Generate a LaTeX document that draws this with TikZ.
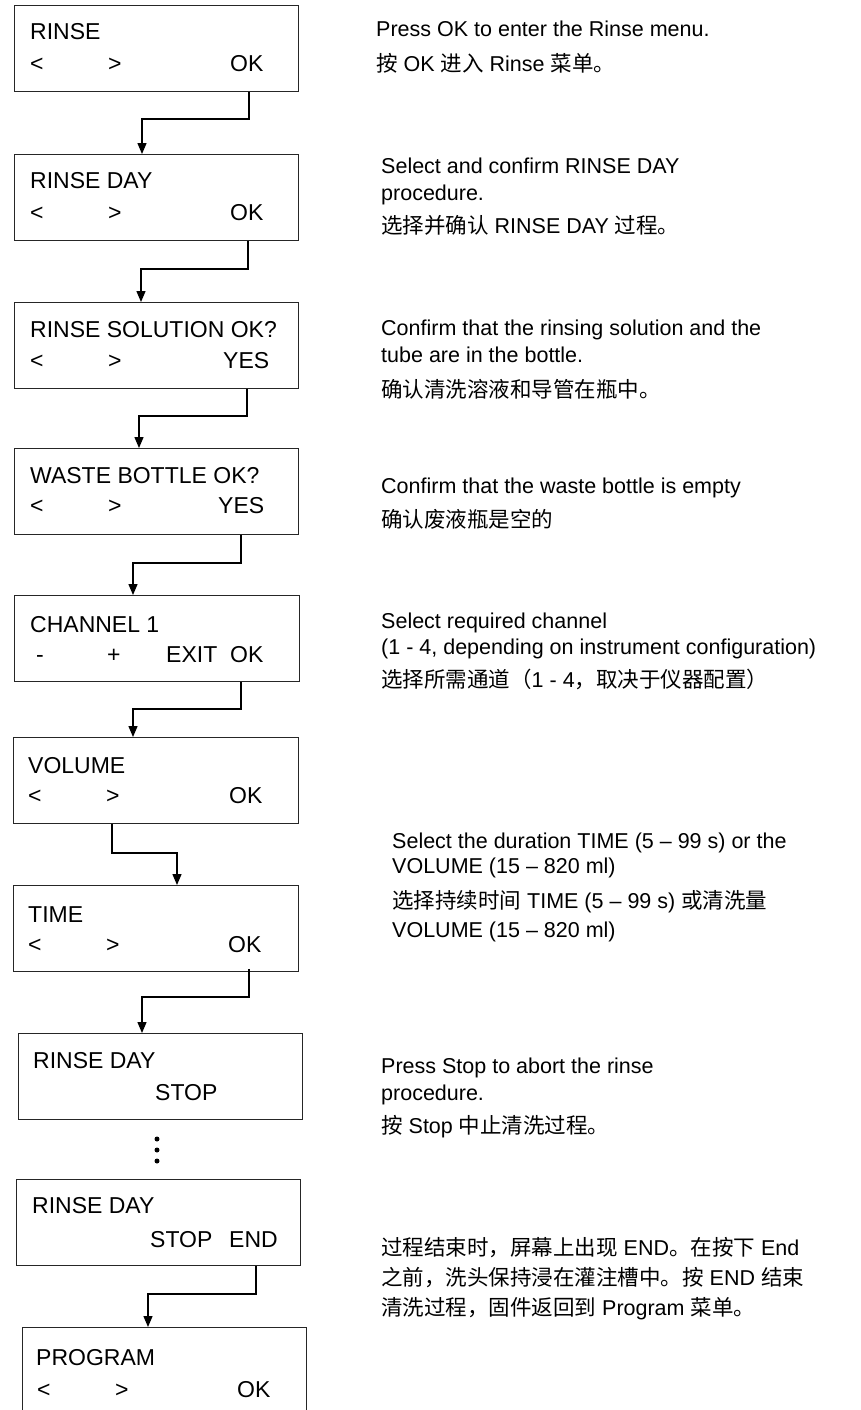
\documentclass[tikz,border=0pt]{standalone}
\usepackage{fontspec}
\setmainfont{Liberation Sans}
\newfontfamily\cjkfont{Noto Sans CJK SC}
\newcommand\zhtxt[1]{{\cjkfont #1}}
\usetikzlibrary{arrows.meta}
\tikzset{
  box/.style={draw=black!85, line width=0.9pt, rectangle, anchor=north west, inner sep=0pt,
              minimum width=284pt, minimum height=86pt},
  lbl/.style={anchor=base west, inner sep=0pt, font=\fontsize{23}{27}\selectfont},
  desc/.style={anchor=base west, inner sep=0pt, font=\fontsize{21.5}{26}\selectfont},
  arr/.style={-{Triangle[length=11pt,width=9pt]}, line width=1.3pt, black},
  dotnode/.style={circle, fill=black, inner sep=0pt, minimum size=5pt}
}
\begin{document}
\begin{tikzpicture}[x=1pt,y=-1pt]
\fill[white] (0,0) rectangle (860,1410);
\useasboundingbox (0,0) rectangle (860,1410);

% ---------- boxes ----------
\node[box] (b1) at (14,5) {};
\node[box] (b2) at (14,154) {};
\node[box] (b3) at (14,302) {};
\node[box] (b4) at (14,448) {};
\node[box, minimum width=285pt] (b5) at (14,595) {};
\node[box, minimum width=285pt] (b6) at (13,737) {};
\node[box, minimum width=285pt] (b7) at (13,885) {};
\node[box] (b8) at (18,1033) {};
\node[box] (b9) at (16,1179) {};
\node[box] (b10) at (22,1327) {};

% ---------- box texts ----------
\node[lbl] (t1a) at (30,40) {RINSE};
\node[lbl] (t1b) at (30,72) {<};
\node[lbl] (t1c) at (108,72) {>};
\node[lbl] (t1d) at (230,72) {OK};

\node[lbl] (t2a) at (30,188) {RINSE DAY};
\node[lbl] (t2b) at (30,220) {<};
\node[lbl] (t2c) at (108,220) {>};
\node[lbl] (t2d) at (230,220) {OK};

\node[lbl] (t3a) at (30,337) {RINSE SOLUTION OK?};
\node[lbl] (t3b) at (30,368) {<};
\node[lbl] (t3c) at (108,368) {>};
\node[lbl] (t3d) at (223,368) {YES};

\node[lbl] (t4a) at (30,483) {WASTE BOTTLE OK?};
\node[lbl] (t4b) at (30,513) {<};
\node[lbl] (t4c) at (108,513) {>};
\node[lbl] (t4d) at (218,513) {YES};

\node[lbl] (t5a) at (30,632) {CHANNEL 1};
\node[lbl] (t5b) at (36,662) {-};
\node[lbl] (t5c) at (107,662) {+};
\node[lbl] (t5d) at (166,662) {EXIT};
\node[lbl] (t5e) at (230,662) {OK};

\node[lbl] (t6a) at (28,773) {VOLUME};
\node[lbl] (t6b) at (28,803) {<};
\node[lbl] (t6c) at (106,803) {>};
\node[lbl] (t6d) at (229,803) {OK};

\node[lbl] (t7a) at (28,922) {TIME};
\node[lbl] (t7b) at (28,952) {<};
\node[lbl] (t7c) at (106,952) {>};
\node[lbl] (t7d) at (228,952) {OK};

\node[lbl] (t8a) at (33,1068) {RINSE DAY};
\node[lbl] (t8b) at (155,1100) {STOP};

\node[lbl] (t9a) at (32,1213) {RINSE DAY};
\node[lbl] (t9b) at (150,1247) {STOP};
\node[lbl] (t9c) at (229,1247) {END};

\node[lbl] (t10a) at (36,1365) {PROGRAM};
\node[lbl] (t10b) at (37,1397) {<};
\node[lbl] (t10c) at (115,1397) {>};
\node[lbl] (t10d) at (237,1397) {OK};

% ---------- dots ----------
\node[dotnode] (dot1) at (157,1139) {};
\node[dotnode] (dot2) at (157,1150) {};
\node[dotnode] (dot3) at (157,1161) {};

% ---------- connectors ----------
\draw[arr] ([xshift=235pt]b1.south west) -- ++(0,27) -| ([xshift=128pt]b2.north west);
\draw[arr] ([xshift=234pt]b2.south west) -- ++(0,28) -| ([xshift=127pt]b3.north west);
\draw[arr] ([xshift=233pt]b3.south west) -- ++(0,27) -| ([xshift=125pt]b4.north west);
\draw[arr] ([xshift=227pt]b4.south west) -- ++(0,28) -| ([xshift=119pt]b5.north west);
\draw[arr] ([xshift=227pt]b5.south west) -- ++(0,27) -| ([xshift=120pt]b6.north west);
\draw[arr] ([xshift=99pt]b6.south west) -- ++(0,29) -| ([xshift=164pt]b7.north west);
\draw[arr] ([xshift=236pt,yshift=3pt]b7.south west) -- ++(0,28) -| ([xshift=124pt]b8.north west);
\draw[arr] ([xshift=240pt]b9.south west) -- ++(0,28) -| ([xshift=126pt]b10.north west);

% ---------- descriptions ----------
\node[desc] (d1a) at (376,37) {Press OK to enter the Rinse menu.};
\node[desc] (d1b) at (376,72) {\zhtxt{按} OK \zhtxt{进入} Rinse \zhtxt{菜单。}};

\node[desc] (d2a) at (381,173) {Select and confirm RINSE DAY};
\node[desc] (d2b) at (381,200) {procedure.};
\node[desc] (d2c) at (381,233) {\zhtxt{选择并确认} RINSE DAY \zhtxt{过程。}};

\node[desc] (d3a) at (381,335) {Confirm that the rinsing solution and the};
\node[desc] (d3b) at (381,362) {tube are in the bottle.};
\node[desc] (d3c) at (381,397) {\zhtxt{确认清洗溶液和导管在瓶中。}};

\node[desc] (d4a) at (381,493) {Confirm that the waste bottle is empty};
\node[desc] (d4b) at (381,527) {\zhtxt{确认废液瓶是空的}};

\node[desc] (d5a) at (381,628) {Select required channel};
\node[desc] (d5b) at (381,654) {(1 - 4, depending on instrument configuration)};
\node[desc] (d5c) at (381,687) {\zhtxt{选择所需通道（}1 - 4\zhtxt{，取决于仪器配置）}};

\node[desc] (d6a) at (392,848) {Select the duration TIME (5 – 99 s) or the};
\node[desc] (d6b) at (392,873) {VOLUME (15 – 820 ml)};
\node[desc] (d6c) at (392,908) {\zhtxt{选择持续时间} TIME (5 – 99 s) \zhtxt{或清洗量}};
\node[desc] (d6d) at (392,937) {VOLUME (15 – 820 ml)};

\node[desc] (d8a) at (381,1073) {Press Stop to abort the rinse};
\node[desc] (d8b) at (381,1100) {procedure.};
\node[desc] (d8c) at (381,1133) {\zhtxt{按} Stop \zhtxt{中止清洗过程。}};

\node[desc] (d9a) at (381,1255) {\zhtxt{过程结束时，屏幕上出现} END\zhtxt{。在按下} End};
\node[desc] (d9b) at (381,1285) {\zhtxt{之前，洗头保持浸在灌注槽中。按} END \zhtxt{结束}};
\node[desc] (d9c) at (381,1315) {\zhtxt{清洗过程，固件返回到} Program \zhtxt{菜单。}};
\end{tikzpicture}
\end{document}
